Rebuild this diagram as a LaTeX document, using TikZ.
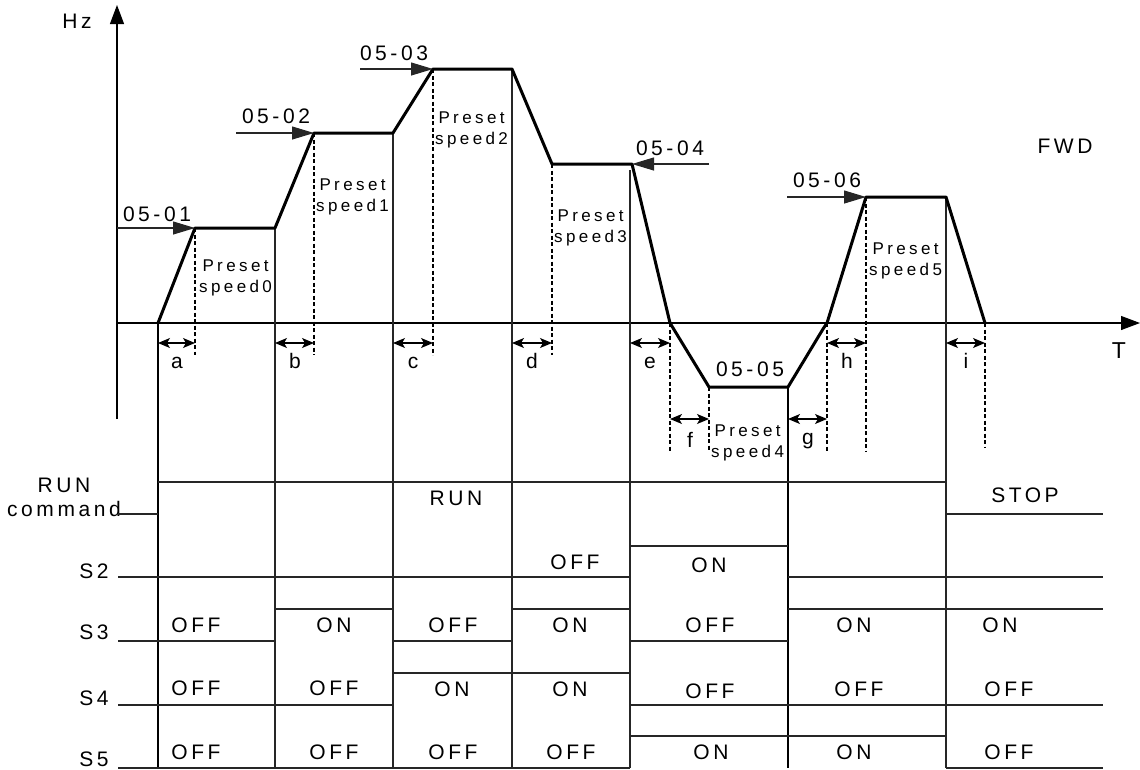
\documentclass[tikz,border=0pt]{standalone}
\usepackage{fontspec}
\setmainfont{Liberation Sans}
\newfontfamily\lab[LetterSpace=17]{Liberation Sans}
\newfontfamily\labs[LetterSpace=20]{Liberation Sans}
\usetikzlibrary{arrows.meta}
\begin{document}
\begin{tikzpicture}[x=1pt,y=-1pt,
  big/.style={font=\lab\fontsize{21}{24}\selectfont, inner sep=0pt, anchor=base},
  small/.style={font=\labs\fontsize{17}{21}\selectfont, inner sep=0pt, anchor=north west, align=center},
  thinl/.style={line width=1.1pt, black!85},
  prof/.style={line width=3pt, line join=round},
  dsh/.style={line width=1.2pt, dash pattern=on 4pt off 2.5pt},
  axisarrow/.style={line width=1.1pt, -{Triangle[length=19pt,width=14pt]}},
  inarrow/.style={line width=1.1pt, black!85, -{Triangle[length=22pt,width=13pt]}},
  dbl/.style={line width=1.1pt, {Stealth[length=12pt,width=10pt,inset=3pt]}-{Stealth[length=12pt,width=10pt,inset=3pt]}}
]
\useasboundingbox (0,0) rectangle (1140,769);
% axes
\coordinate (yb) at (117,419); \coordinate (yt) at (117,5);
\coordinate (xl) at (117,323); \coordinate (xr) at (1140,323);
\draw[axisarrow] (yb) -- (yt);
\draw[axisarrow] (xl) -- (xr);
\node[big] (hz) at (77,28) {Hz};
\node[big, font=\lab\fontsize{23}{26}\selectfont] (tt) at (1119,358) {T};
\node[big] (fwd) at (1065,153) {FWD};
% profile points
\coordinate (p0) at (158,323); \coordinate (p1) at (195,228);
\coordinate (p2) at (275,228); \coordinate (p3) at (314,133);
\coordinate (p4) at (393,133); \coordinate (p5) at (433,69);
\coordinate (p6) at (512,69);  \coordinate (p7) at (552,164);
\coordinate (p8) at (632,164); \coordinate (p9) at (670,323);
\coordinate (p10) at (709,387); \coordinate (p11) at (788,387);
\coordinate (p12) at (823,329); \coordinate (p13) at (827,323);
\coordinate (p14) at (866,197); \coordinate (p15) at (946,197);
\coordinate (p16) at (985,323);
% vertical boundary lines
\draw[line width=2.6pt] (p0) -- (158,768);
\draw[thinl] (p2) -- (275,768);
\draw[thinl] (p4) -- (393,768);
\draw[thinl] (p6) -- (512,768);
\draw[thinl] (630,170) -- (630,768);
\draw[line width=2pt] (p11) -- (788,768);
\draw[thinl] (p15) -- (946,768);
% dashed lines
\draw[dsh] (p1) -- (195,355);
\draw[dsh] (p3) -- (314,355);
\draw[dsh] (p5) -- (433,355);
\draw[dsh] (p7) -- (552,355);
\draw[dsh] (p9) -- (670,451);
\draw[dsh] (p10) -- (709,451);
\draw[dsh] (p13) -- (827,451);
\draw[dsh] (p14) -- (866,451);
\draw[dsh] (p16) -- (985,448);
% profile
\draw[prof] (p0) -- (p1) -- (p2) -- (p3) -- (p4) -- (p5) -- (p6) -- (p7) -- (p8) -- (p9) -- (p10) -- (p11) -- (p12) -- (p13) -- (p14) -- (p15) -- (p16);
% input arrows
\coordinate (i1) at (117,228); \coordinate (i2) at (236,133);
\coordinate (i3) at (360,69);  \coordinate (i4) at (709,164);
\coordinate (i6) at (787,197);
\draw[inarrow] (i1) -- (p1);
\draw[inarrow] (i2) -- (p3);
\draw[inarrow] (i3) -- (p5);
\draw[inarrow] (i4) -- (p8);
\draw[inarrow] (i6) -- (p14);
\node[big] (l1) at (157,221) {05-01};
\node[big] (l2) at (276,123) {05-02};
\node[big] (l3) at (394,60) {05-03};
\node[big] (l4) at (670,155) {05-04};
\node[big] (l5) at (750,376) {05-05};
\node[big] (l6) at (827,187) {05-06};
% preset labels
\node[small] (ps0) at (199,260) {Preset\\speed0};
\node[small] (ps1) at (316,179) {Preset\\speed1};
\node[small] (ps2) at (435,112) {Preset\\speed2};
\node[small] (ps3) at (554,210) {Preset\\speed3};
\node[small] (ps4) at (711,425) {Preset\\speed4};
\node[small] (ps5) at (869,243) {Preset\\speed5};
% interval arrows
\foreach \n/\a/\b/\y in {a/158/195/343, b/275/314/343, c/393/433/343, d/512/552/343, e/630/670/343, h/827/866/343, i/946/985/343, f/670/709/419, g/788/827/419}{
  \coordinate (\n-l) at (\a,\y); \coordinate (\n-r) at (\b,\y);
  \draw[dbl] (\n-l) -- (\n-r);
}
\foreach \n/\x/\y in {a/177/368, b/295/368, c/413/368, d/532/368, e/650/368, h/847/368, i/966/368, f/690/447, g/808/444}{
  \node[big] (t-\n) at (\x,\y) {\n};
}
% timing chart row labels
\node[big, align=center, anchor=north] (runcmd) at (64,478) {RUN\\command};
\node[big] (s2) at (94,578) {S2};
\node[big] (s3) at (94,639) {S3};
\node[big] (s4) at (94,705) {S4};
\node[big] (s5) at (94,766) {S5};
% RUN waveform
\draw[thinl] (118,514) -- (158,514);
\draw[thinl] (158,482) -- (946,482);
\draw[thinl] (946,514) -- (1103,514);
% S2
\draw[thinl] (118,577) -- (630,577);
\draw[thinl] (630,546) -- (788,546);
\draw[thinl] (788,577) -- (1103,577);
% S3
\draw[thinl] (118,641) -- (275,641);
\draw[thinl] (275,609) -- (393,609);
\draw[thinl] (393,641) -- (512,641);
\draw[thinl] (512,609) -- (630,609);
\draw[thinl] (630,641) -- (788,641);
\draw[thinl] (788,609) -- (1103,609);
% S4
\draw[thinl] (118,705) -- (393,705);
\draw[thinl] (393,673) -- (630,673);
\draw[thinl] (630,705) -- (1103,705);
% S5
\draw[thinl] (118,768) -- (630,768);
\draw[thinl] (630,736) -- (946,736);
\draw[thinl] (946,768) -- (1103,768);
% state texts
\node[big] (run) at (456,505) {RUN};
\node[big] (stop) at (1025,502) {STOP};
\node[big] (s2a) at (575,569) {OFF};
\node[big] (s2b) at (709,572) {ON};
\foreach \t/\x [count=\i] in {OFF/196, ON/334, OFF/453, ON/570, OFF/710, ON/854, ON/1000}{
  \node[big] (s3-\i) at (\x,632) {\t};
}
\foreach \t/\x/\y [count=\i] in {OFF/196/695, OFF/334/695, ON/452/696, ON/570/696, OFF/710/698, OFF/859/696, OFF/1009/696}{
  \node[big] (s4-\i) at (\x,\y) {\t};
}
\foreach \t/\x [count=\i] in {OFF/196, OFF/334, OFF/453, OFF/571, ON/711, ON/854, OFF/1009}{
  \node[big] (s5-\i) at (\x,759) {\t};
}
\end{tikzpicture}
\end{document}
